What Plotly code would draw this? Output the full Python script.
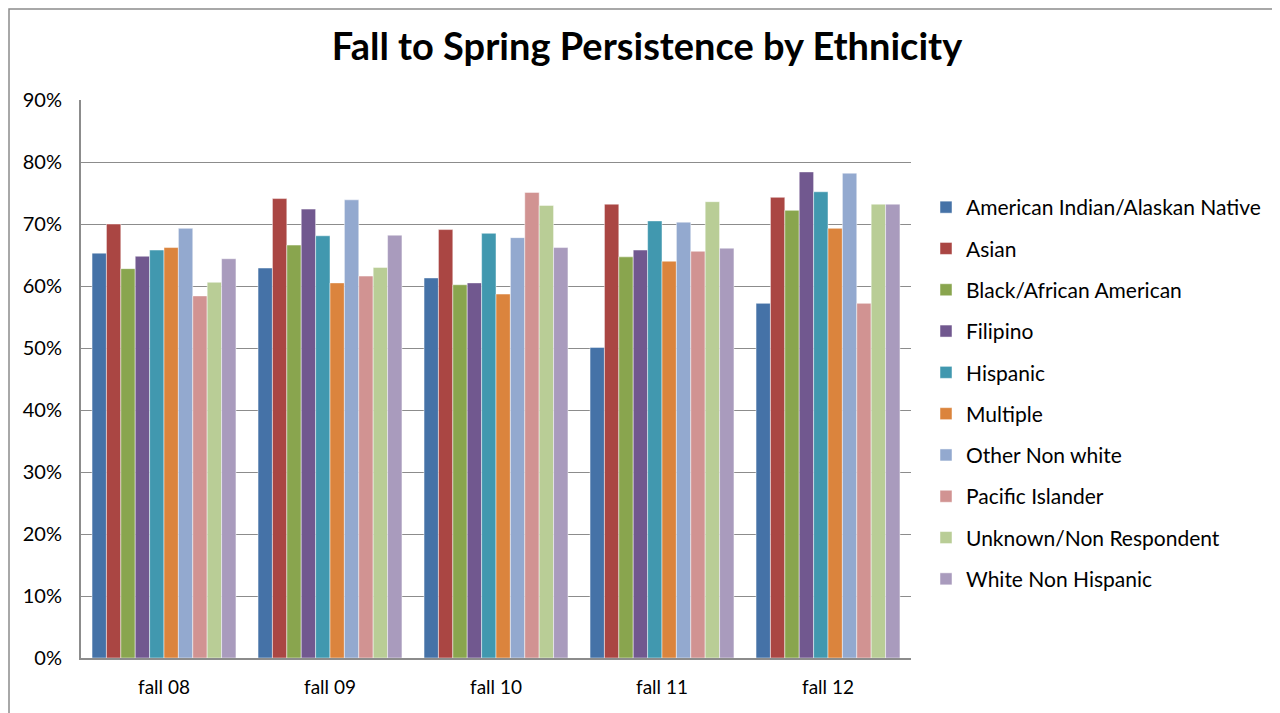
import plotly.graph_objects as go

categories = ["fall 08", "fall 09", "fall 10", "fall 11", "fall 12"]

american_indian = [65.3, 62.9, 61.3, 50.1, 57.2]
asian = [70.0, 74.1, 69.1, 73.2, 74.3]
black = [62.8, 66.6, 60.2, 64.7, 72.2]
filipino = [64.8, 72.4, 60.5, 65.8, 78.4]
hispanic = [65.8, 68.1, 68.5, 70.5, 75.2]
multiple = [66.2, 60.5, 58.7, 64.0, 69.3]
other_non_white = [69.3, 73.9, 67.8, 70.3, 78.2]
pacific_islander = [58.4, 61.6, 75.1, 65.6, 57.2]
unknown = [60.6, 63.0, 73.0, 73.6, 73.2]
white_non_hispanic = [64.4, 68.2, 66.2, 66.1, 73.2]

series_names = ["American Indian/Alaskan Native", "Asian", "Black/African American",
                "Filipino", "Hispanic", "Multiple", "Other Non white",
                "Pacific Islander", "Unknown/Non Respondent", "White Non Hispanic"]
series_values = [american_indian, asian, black, filipino, hispanic, multiple,
                 other_non_white, pacific_islander, unknown, white_non_hispanic]
colors = ["#4572A7", "#AA4643", "#89A54E", "#71588F", "#4198AF", "#DB843D",
          "#93A9CF", "#D19392", "#B9CD96", "#A99BBD"]

fig = go.Figure()
for i, (name, vals, col) in enumerate(zip(series_names, series_values, colors)):
    fig.add_trace(go.Bar(
        x=categories, y=[v / 100 for v in vals], name=name,
        marker=dict(color=col, line=dict(color="rgba(255,255,255,0.6)", width=0.8)),
        legendgroup=f"g{i}",
    ))

OFF = 8  # page body margin
FONT = "Lato, 'Open Sans', sans-serif"
fig.update_layout(
    width=1280, height=713,
    barmode="group", bargap=0.133, bargroupgap=0,
    plot_bgcolor="white", paper_bgcolor="white",
    margin=dict(l=81 - OFF, r=1280 - (911 - OFF), t=100 - OFF, b=713 - (658 - OFF)),
    title=dict(text="<b>Fall to Spring Persistence by Ethnicity</b>",
               x=(647 - OFF) / 1280, xanchor="center",
               y=1 - (47 - OFF) / 713, yanchor="middle",
               xref="container", yref="container",
               font=dict(family=FONT, size=38, color="black")),
    font=dict(family=FONT, color="black"),
    legend=dict(x=(926 - 81) / 830, xanchor="left", y=(658 - 187) / 558, yanchor="top",
                font=dict(size=21, family=FONT), tracegroupgap=11,
                itemwidth=30, bgcolor="rgba(0,0,0,0)"),
    showlegend=True,
)
fig.update_yaxes(range=[0, 0.9], dtick=0.1, tickformat=".0%",
                 showgrid=True, gridcolor="#8C8C8C", gridwidth=1.3,
                 showline=True, linecolor="#8C8C8C", linewidth=2, ticks="",
                 tickfont=dict(size=20, family=FONT), zeroline=False,
                 ticklabelstandoff=13)
fig.update_xaxes(showline=True, linecolor="#8C8C8C", linewidth=2, ticks="",
                 tickfont=dict(size=19, family=FONT), ticklabelstandoff=11)

# outer chart border (as close to the top-left as the visible figure allows)
fig.add_shape(type="rect", xref="paper", yref="paper",
              x0=(OFF + 1 - 81) / 830, x1=(1400 - 81) / 830,
              y0=(658 - 800) / 558, y1=(658 - OFF - 1) / 558,
              line=dict(color="#8C8C8C", width=1.5), fillcolor="rgba(0,0,0,0)", layer="below")

fig.write_html("out.html")
